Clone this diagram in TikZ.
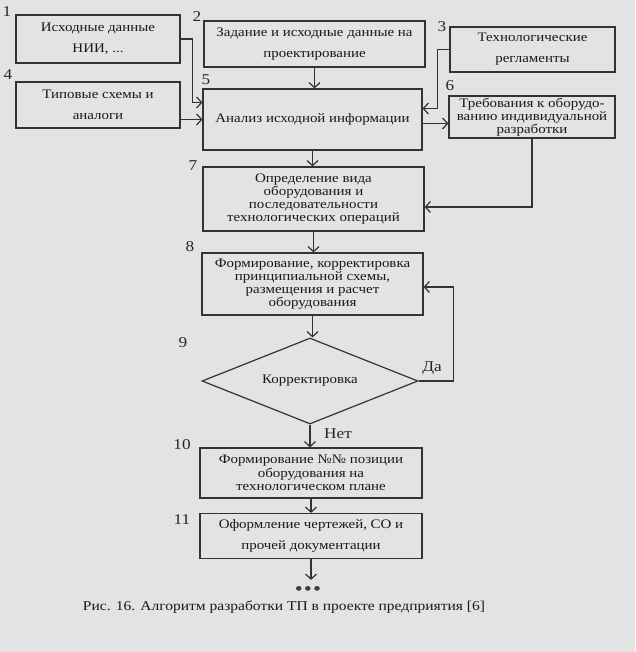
\documentclass[tikz,border=0pt]{standalone}
\usepackage{fontspec}
\setmainfont{Liberation Serif}[FakeStretch=1.15]
\usetikzlibrary{arrows.meta,shapes.geometric}

\begin{document}
\begin{tikzpicture}[x=1pt,y=-1pt,line width=1.2pt,
    box/.style={draw=black!80,text=black!90,align=center,inner sep=1pt,
      font=\fontsize{13}{13.2}\selectfont},
    loose/.style={font=\fontsize{13}{21}\selectfont},
    num/.style={text=black!85,font=\fontsize{15}{15}\selectfont},
    arr/.style={draw=black!80,-{Straight Barb[length=5pt,width=11pt]}}]
  \useasboundingbox[fill=black!11] (0,0) rectangle (635,652);
  % top blocks
  \node[box,loose,minimum width=164pt,minimum height=48pt] (b1) at (98,39) {Исходные данные\\НИИ, ...};
  \node[box,loose,minimum width=221pt,minimum height=46pt] (b2) at (314.5,44) {Задание и исходные данные на\\проектирование};
  \node[box,loose,minimum width=165pt,minimum height=45pt] (b3) at (532.5,49.5) {Технологические\\регламенты};
  \node[box,loose,minimum width=164pt,minimum height=46pt] (b4) at (98,105) {Типовые схемы и\\аналоги};
  \node[box,minimum width=219pt,minimum height=61pt] (b5) at (312.5,119.5) {Анализ исходной информации};
  \node[box,minimum width=166pt,minimum height=42pt] (b6) at (532,117) {Требования к оборудо-\\ванию индивидуальной\\разработки};
  % main column
  \node[box,minimum width=221pt,minimum height=64pt] (b7) at (313.5,199) {Определение вида\\оборудования и\\последовательности\\технологических операций};
  \node[box,minimum width=221pt,minimum height=62pt] (b8) at (312.5,284) {Формирование, корректировка\\принципиальной схемы,\\размещения и расчет\\оборудования};
  \node[draw=black!80,text=black!90,diamond,aspect=2.5,inner sep=0pt,
    minimum width=216pt,minimum height=86pt,font=\fontsize{13}{14}\selectfont] (dia) at (310,381) {Корректировка};
  \node[box,minimum width=222pt,minimum height=50pt] (b10) at (311,473) {Формирование №№ позиции\\оборудования на\\технологическом плане};
  \node[box,loose,minimum width=222pt,minimum height=45pt] (b11) at (311,536) {Оформление чертежей, СО и\\прочей документации};
  \node[text=black!75,inner sep=0pt,font=\fontsize{20}{20}\selectfont] (dots) at (308,591) {\textbullet\hspace{1pt}\textbullet\hspace{1pt}\textbullet};
  % numbers
  \node[num] (n1) at (7,12) {1};
  \node[num] (n2) at (197,17) {2};
  \node[num] (n3) at (442,27) {3};
  \node[num] (n4) at (8,75) {4};
  \node[num] (n5) at (206,80) {5};
  \node[num] (n6) at (450,86) {6};
  \node[num] (n7) at (193,166) {7};
  \node[num] (n8) at (190,247) {8};
  \node[num] (n9) at (183,343) {9};
  \node[num] (n10) at (182,445) {10};
  \node[num] (n11) at (182,520) {11};
  \node[num] (yes) at (432,368) {Да};
  \node[num] (no) at (338,434) {Нет};
  % connectors
  \draw[arr] (b1.east) -- ++(12,0) |- ([yshift=17pt]b5.west);
  \draw[arr] (b4.east |- b5.west) -- (b5.west);
  \draw[arr] (b2.south) -- (b2.south |- b5.north);
  \draw[arr] (b3.west) -- ++(-12,0) |- ([yshift=11pt]b5.east);
  \draw[arr] ([yshift=-4pt]b5.east) -- ([yshift=-4pt]b5.east -| b6.west);
  \draw[arr] (b5.south) -- (b5.south |- b7.north);
  \draw[arr] (b6.south) |- ([yshift=-8pt]b7.east);
  \draw[arr] (b7.south) -- (b7.south |- b8.north);
  \draw[arr] (b8.south) -- (b8.south |- dia.north);
  \draw[arr] (dia.east) -- ++(35,0) |- ([yshift=-3pt]b8.east);
  \draw[arr] (dia.south) -- (dia.south |- b10.north);
  \draw[arr] (b10.south) -- (b10.south |- b11.north);
  \draw[arr] (b11.south) -- ([yshift=6pt]b11.south |- dots.north);
  % caption
  \node[text=black!90,font=\fontsize{13.5}{14}\selectfont] (cap) at (284,607) {Рис. 16. Алгоритм разработки ТП в проекте предприятия [6]};
\end{tikzpicture}
\end{document}
